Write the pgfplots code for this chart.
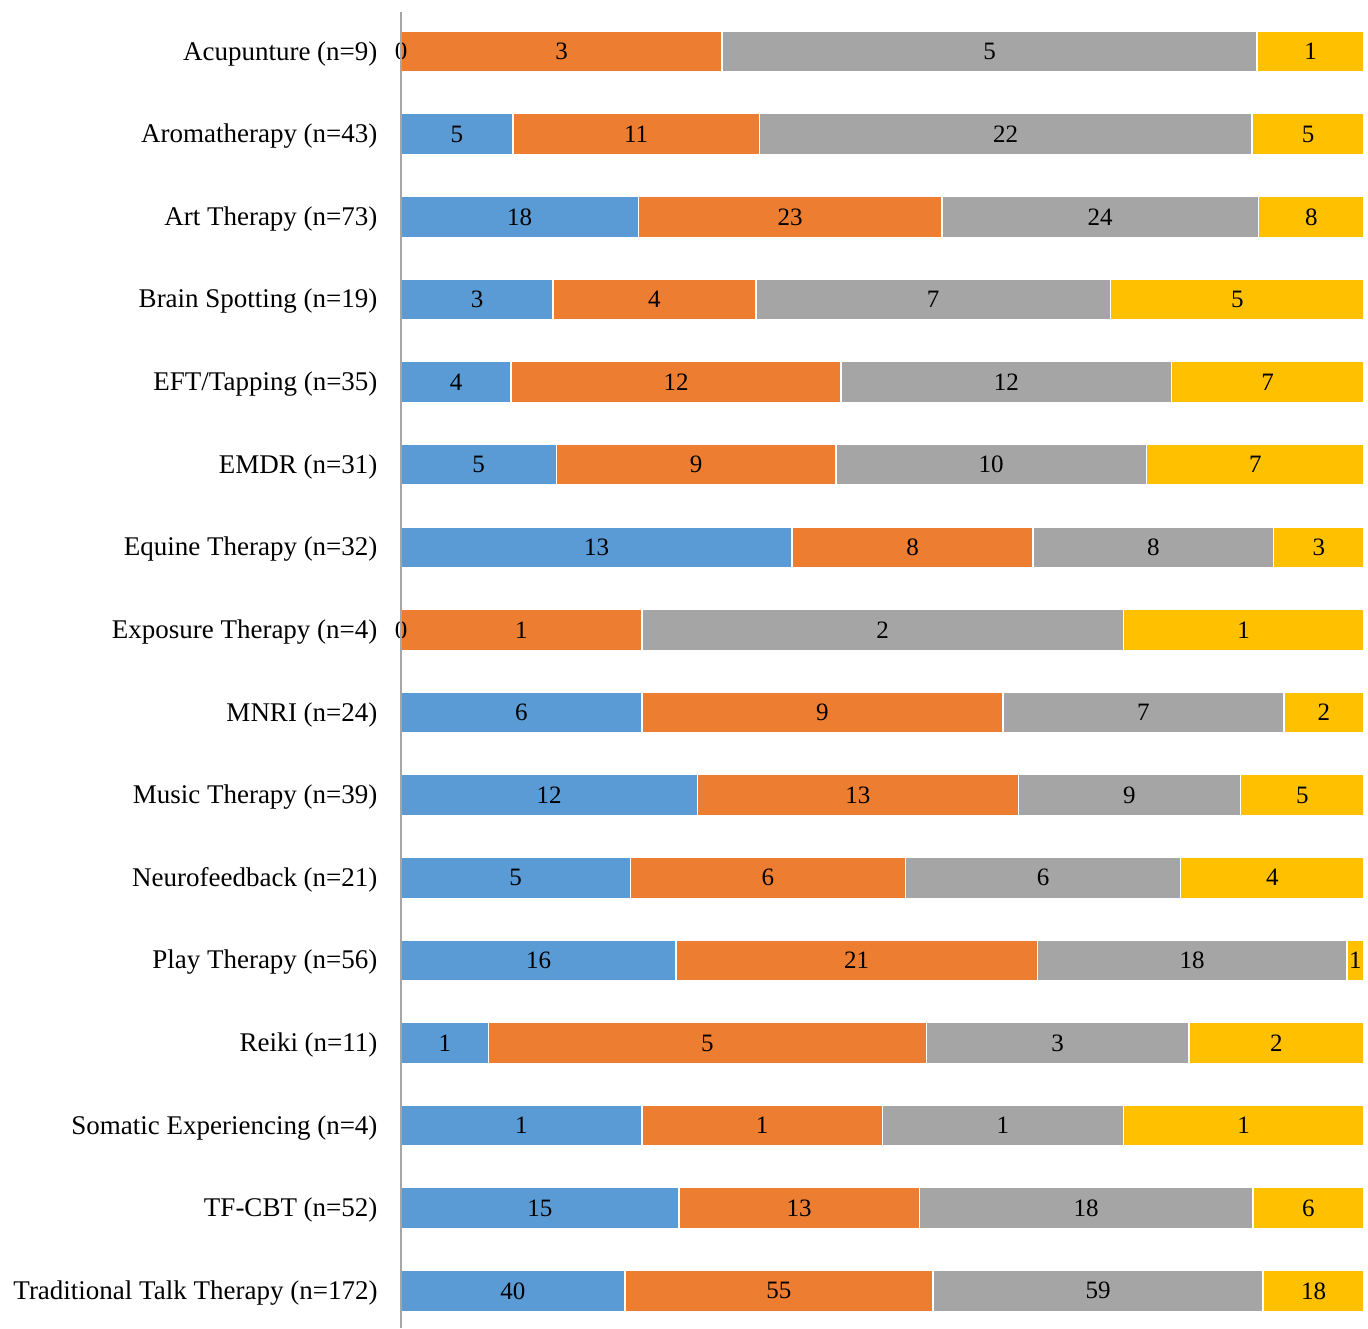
\documentclass[border=0pt]{standalone}
\usepackage{pgfplots}
\pgfplotsset{compat=1.18}
\usepackage{pgfplotstable}
\usepackage{fontspec}
\setmainfont{Liberation Serif}

\definecolor{cblue}{HTML}{5B9BD5}
\definecolor{corange}{HTML}{ED7D31}
\definecolor{cgrey}{HTML}{A5A5A5}
\definecolor{cyellow}{HTML}{FFC000}
\definecolor{axgrey}{HTML}{A6A6A6}

% y = row, pct = share of the row (percent), n = count shown on the bar
% (the two empty segments get a hair-thin width so that their "0" is drawn)
\pgfplotstableread{
y pct n
0  0.001  0
1  11.628 5
2  24.658 18
3  15.789 3
4  11.429 4
5  16.129 5
6  40.625 13
7  0.001  0
8  25     6
9  30.769 12
10 23.810 5
11 28.571 16
12 9.091  1
13 25     1
14 28.846 15
15 23.256 40
}\first
\pgfplotstableread{
y pct n
0  33.333 3
1  25.581 11
2  31.507 23
3  21.053 4
4  34.286 12
5  29.032 9
6  25     8
7  25     1
8  37.5   9
9  33.333 13
10 28.571 6
11 37.5   21
12 45.455 5
13 25     1
14 25     13
15 31.977 55
}\second
\pgfplotstableread{
y pct n
0  55.556 5
1  51.163 22
2  32.877 24
3  36.842 7
4  34.286 12
5  32.258 10
6  25     8
7  50     2
8  29.167 7
9  23.077 9
10 28.571 6
11 32.143 18
12 27.273 3
13 25     1
14 34.615 18
15 34.302 59
}\third
\pgfplotstableread{
y pct n
0  11.111 1
1  11.628 5
2  10.959 8
3  26.316 5
4  20     7
5  22.581 7
6  9.375  3
7  25     1
8  8.333  2
9  12.821 5
10 19.048 4
11 1.786  1
12 18.182 2
13 25     1
14 11.538 6
15 10.465 18
}\fourth

\begin{document}
\begin{tikzpicture}
\begin{axis}[
  name=ax,
  set layers=axis on top,
  scale only axis,
  width=963pt, height=1316pt,
  xbar stacked,
  bar width=41pt,
  xmin=0, xmax=100,
  ymin=-0.48, ymax=15.45,
  y dir=reverse,
  axis lines*=left,
  axis x line=none,
  y axis line style={axgrey, line width=1.3pt},
  ytick={0,...,15},
  yticklabels={Acupunture (n=9), Aromatherapy (n=43), Art Therapy (n=73),
    Brain Spotting (n=19), EFT/Tapping (n=35), EMDR (n=31),
    Equine Therapy (n=32), Exposure Therapy (n=4), MNRI (n=24),
    Music Therapy (n=39), Neurofeedback (n=21), Play Therapy (n=56),
    Reiki (n=11), Somatic Experiencing (n=4), TF-CBT (n=52),
    Traditional Talk Therapy (n=172)},
  major tick length=0pt,
  yticklabel style={font=\fontsize{27}{32}\selectfont, xshift=-20pt, yshift=-2pt},
  every axis plot/.append style={draw=white, line width=1.5pt},
  point meta=explicit symbolic,
  nodes near coords,
  every node near coord/.append style={
    font=\fontsize{25}{30}\selectfont, anchor=center,
    /tikz/on layer=axis foreground},
  clip=false,
]
\addplot[fill=cblue] table[x=pct, y=y, meta=n] {\first};
\addplot[fill=corange] table[x=pct, y=y, meta=n] {\second};
\addplot[fill=cgrey] table[x=pct, y=y, meta=n] {\third};
\addplot[fill=cyellow] table[x=pct, y=y, meta=n] {\fourth};
\end{axis}
\path (ax.north west) ++(-401pt,12pt);
\path (ax.south east) ++(4pt,0pt);
\end{tikzpicture}
\end{document}
